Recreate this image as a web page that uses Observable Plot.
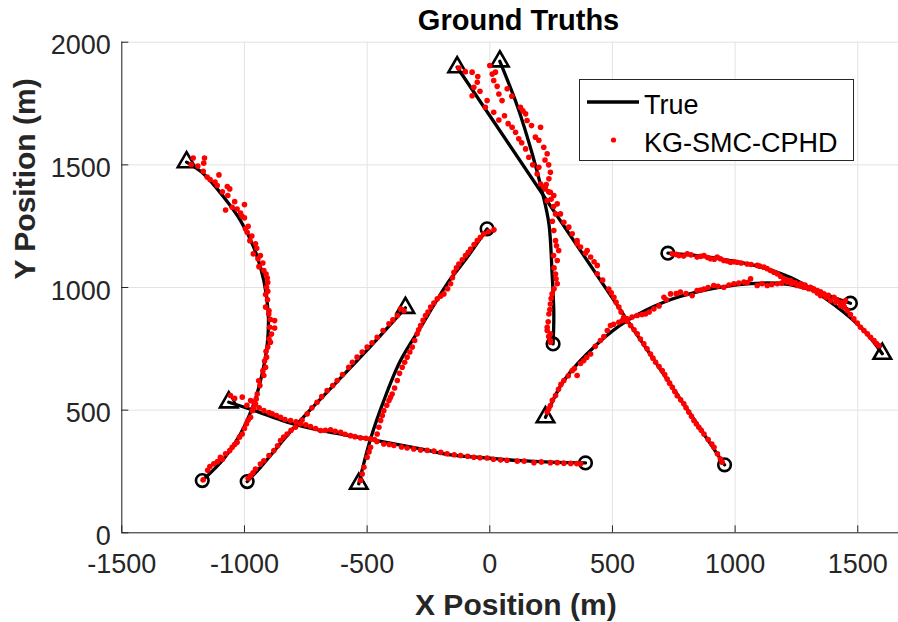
<!DOCTYPE html>
<html>
<head>
<meta charset="utf-8">
<script src="https://cdn.jsdelivr.net/npm/d3@7"></script>
<script src="https://cdn.jsdelivr.net/npm/@observablehq/plot@0.6"></script>
<style>
  body { margin: 0; background: #fff; }
  #wrap { position: relative; width: 898px; height: 622px; font-family: "Liberation Sans", Arial, Helvetica, sans-serif; }
  #legend { position: absolute; left: 579px; top: 79px; width: 275px; height: 82px; box-sizing: border-box; border: 1px solid #262626; background: #fff; }
  #legend svg { position: absolute; left: 0; top: 0; }
</style>
</head>
<body>
<div id="wrap">
  <div id="chart"></div>
  <div id="legend">
    <svg width="275" height="82" font-family="Liberation Sans, Arial, Helvetica, sans-serif">
      <line x1="7" x2="59" y1="22" y2="22" stroke="#000" stroke-width="3.3"></line>
      <text x="64" y="34" font-size="27" fill="#000">True</text>
      <circle cx="33.5" cy="60" r="2.6" fill="#ff0000"></circle>
      <text x="64" y="72" font-size="27" fill="#000">KG-SMC-CPHD</text>
    </svg>
  </div>
</div>
<script>
// Axis ticks
const xTicks = [-1500, -1000, -500, 0, 500, 1000, 1500];
const yTicks = [0, 500, 1000, 1500, 2000];
const xDomain = [-1500, 1666];
const yDomain = [0, 2000];

// True trajectories (start = triangle, end = circle)
const truth1 = [[-1236,1511],[-1166,1463],[-1084,1368],[-1016,1273],[-962,1164],[-921,1028],[-903,893],[-907,770],[-928,648],[-962,526],[-1016,404],[-1084,302],[-1172,213]];
const truth2 = [[-1064,532],[-962,499],[-826,451],[-690,417],[-500,383],[-282,342],[-160,318],[-11,305],[112,295],[250,288],[390,285]];
const truth3 = [[-344,917],[-514,730],[-785,444],[-935,267],[-989,209]];
const truth4 = [[-534,200],[-486,383],[-432,539],[-364,702],[-282,838],[-174,1015],[-92,1123],[-11,1239]];
const truth5 = [[-133,1898],[957,277]];
const truth6 = [[41,1922],[114,1735],[173,1545],[214,1389],[241,1260],[254,1056],[261,893],[258,770]];
const truth7 = [[227,471],[302,621],[438,770],[560,865],[709,940],[872,988],[1049,1015],[1198,1015],[1321,988],[1416,954],[1470,936]];
const truth8 = [[1600,730],[1525,825],[1443,899],[1362,960],[1253,1028],[1117,1080],[981,1110],[845,1130],[726,1140]];

// KG-SMC-CPHD estimates
const est1 = [[-1209,1528],[-1217,1501],[-1163,1528],[-1166,1507],[-1168,1474],[-1152,1450],[-1104,1459],[-1111,1416],[-1070,1412],[-1060,1402],[-1068,1375],[-1077,1316],[-1050,1327],[-1000,1338],[-1016,1303],[-1000,1284],[-996,1239],[-989,1225],[-978,1191],[-955,1178],[-964,1137],[-945,1117],[-941,1085],[-921,1069],[-907,1039],[-910,1001],[-914,971],[-914,920],[-901,892],[-877,865],[-897,838],[-877,835],[-894,777],[-905,757],[-910,716],[-914,675],[-921,641],[-937,600],[-948,566],[-955,525],[-968,498],[-975,471],[-992,444],[-1009,403],[-1030,369],[-1050,349],[-1077,322],[-1098,308],[-1125,281],[-1141,270],[-1168,216],
  [-1190,1495],[-1140,1440],[-1120,1430],[-1090,1390],[-1040,1350],[-1030,1320],[-1010,1290],[-985,1250],[-970,1210],[-950,1160],[-935,1130],[-925,1100],[-912,1055],[-905,1020],[-905,985],[-906,950],[-900,905],[-895,870],[-890,810],[-900,790],[-912,740],[-918,700],[-925,660],[-942,620],[-952,545],[-962,510],[-985,460],[-1000,425],[-1020,390],[-1040,360],[-1060,335],[-1090,300],[-1110,290],[-1150,255]];
const est2 = [[-1057,560],[-1009,553],[-975,539],[-962,532],[-921,498],[-887,485],[-853,471],[-812,458],[-772,444],[-731,433],[-690,417],[-649,420],[-608,410],[-568,396],[-527,387],[-486,383],[-432,362],[-391,356],[-337,346],[-282,338],[-228,333],[-174,322],[-119,315],[-65,308],[-11,305],[44,297],[112,292],[180,286],[247,286],[302,284],[370,281],
  [-1040,548],[-990,520],[-940,510],[-900,490],[-870,478],[-835,462],[-790,452],[-750,440],[-710,425],[-670,418],[-630,414],[-590,402],[-550,392],[-505,385],[-460,372],[-410,360],[-360,350],[-310,342],[-255,336],[-200,328],[-145,318],[-90,312],[-40,306],[15,300],[70,296],[140,292],[210,289],[275,286],[330,283],[355,282]];
const est3 = [[-364,913],[-377,886],[-411,852],[-459,797],[-500,757],[-541,716],[-575,675],[-622,621],[-663,580],[-704,532],[-744,485],[-792,430],[-826,403],[-853,376],[-880,335],[-921,294],[-955,260],[-975,233],
  [-350,905],[-395,868],[-435,825],[-480,775],[-520,737],[-560,695],[-600,645],[-640,600],[-685,555],[-725,510],[-765,460],[-810,418],[-840,390],[-865,355],[-900,315],[-935,280],[-965,245],[-985,222]];
const est4 = [[-527,213],[-513,267],[-500,308],[-486,349],[-459,403],[-445,458],[-432,498],[-411,539],[-398,566],[-377,621],[-357,675],[-337,716],[-316,757],[-296,811],[-282,845],[-262,886],[-241,920],[-214,954],[-187,974],[-160,1015],[-146,1062],[-126,1096],[-99,1130],[-78,1157],[-51,1191],[-24,1219],[17,1235],
  [-520,240],[-492,330],[-470,380],[-452,430],[-438,478],[-420,520],[-405,552],[-388,590],[-368,650],[-347,695],[-326,737],[-306,784],[-290,828],[-272,866],[-252,900],[-228,937],[-200,965],[-172,995],[-152,1040],[-136,1080],[-112,1113],[-88,1143],[-64,1175],[-38,1205],[-5,1228]];
const est5 = [[-126,1895],[-72,1878],[-49,1860],[-51,1837],[-65,1816],[-72,1782],[-11,1762],[-18,1735],[16,1714],[37,1683],[91,1653],[105,1633],[118,1606],[146,1565],[159,1531],[193,1463],[207,1422],[227,1402],[261,1375],[275,1341],[288,1300],[302,1266],[322,1246],[336,1219],[356,1191],[356,1178],[397,1151],[411,1124],[438,1090],[438,1056],[485,994],[506,960],[526,920],[546,879],[574,845],[601,811],[628,770],[655,729],[676,695],[703,661],[723,627],[744,593],[764,559],[791,526],[811,492],[832,458],[852,430],[873,403],[914,349],[940,301],[947,288],
  [-100,1880],[-40,1800],[60,1700],[75,1668],[130,1590],[175,1500],[240,1390],[250,1360],[370,1165],[390,1140],[425,1105],[460,1030],[495,978],[515,940],[535,900],[560,862],[588,828],[614,790],[641,750],[665,712],[690,678],[713,645],[733,610],[754,576],[778,542],[800,510],[822,475],[842,444],[862,418],[890,380],[905,362],[928,322]];
const est6 = [[0,1905],[23,1878],[16,1844],[37,1789],[50,1762],[71,1810],[125,1735],[146,1708],[152,1681],[207,1653],[186,1613],[220,1572],[234,1545],[200,1490],[247,1470],[241,1443],[220,1409],[247,1388],[234,1354],[268,1300],[261,1232],[268,1191],[281,1151],[275,1110],[268,1055],[275,1015],[254,974],[247,933],[241,892],[234,838],[234,825],[247,811],[247,784],[247,777],
  [10,1870],[30,1820],[90,1780],[135,1720],[170,1660],[200,1600],[225,1520],[240,1500],[230,1420],[260,1330],[255,1270],[272,1170],[260,1130],[262,1080],[270,1035],[262,995],[250,955],[245,910],[238,860],[240,800]];
const est7 = [[234,492],[247,519],[268,560],[302,621],[336,661],[356,641],[383,702],[411,729],[451,784],[479,825],[492,845],[526,858],[560,872],[601,886],[635,892],[669,913],[710,960],[737,974],[777,981],[825,967],[845,988],[873,994],[913,1008],[954,1001],[995,1015],[1036,1022],[1063,1035],[1090,1008],[1131,1008],[1172,1015],[1212,1022],[1253,1008],[1280,1001],[1321,988],[1348,967],[1389,947],[1430,926],[1450,947],
  [240,505],[255,540],[280,585],[290,605],[320,640],[345,670],[370,690],[395,715],[430,760],[465,800],[505,850],[540,865],[580,880],[620,890],[650,900],[690,925],[720,950],[760,975],[800,975],[860,990],[890,1000],[930,1005],[975,1010],[1015,1018],[1050,1020],[1110,1015],[1150,1012],[1190,1018],[1230,1015],[1270,1005],[1300,995],[1335,978],[1370,960],[1410,940],[1440,930]];
const est8 = [[744,1137],[771,1130],[805,1137],[845,1124],[873,1130],[900,1117],[927,1124],[954,1110],[981,1103],[1008,1103],[1049,1096],[1090,1090],[1117,1083],[1144,1069],[1172,1056],[1199,1035],[1226,1028],[1267,1015],[1307,1001],[1335,988],[1362,974],[1403,960],[1430,940],[1457,906],[1484,872],[1511,838],[1539,811],[1566,784],[1586,763],
  [760,1135],[790,1128],[820,1133],[860,1127],[888,1122],[915,1115],[940,1117],[968,1108],[995,1105],[1025,1100],[1065,1094],[1100,1087],[1130,1077],[1158,1062],[1185,1046],[1212,1030],[1245,1020],[1285,1010],[1320,995],[1348,982],[1380,968],[1415,950],[1445,920],[1470,890],[1498,855],[1525,825],[1552,797],[1576,772]];

const truthTracks = [truth1, truth2, truth3, truth4, truth5, truth6, truth7, truth8];
const estTracks = [est1, est2, est3, est4, est5, est6, est7, est8];

const truthRows = truthTracks.flatMap((t, i) => t.map(([x, y]) => ({x, y, track: i})));
const estRows = estTracks.flatMap((t, i) => t.map(([x, y]) => ({x, y, track: i})));
const startRows = truthTracks.map((t, i) => ({x: t[0][0], y: t[0][1], track: i}));
const endRows = truthTracks.map((t, i) => ({x: t[t.length - 1][0], y: t[t.length - 1][1], track: i}));

const W = 898, H = 622;
const ML = 121.3, MR = 0, MT = 41.7, MB = 89.7;
const frameW = W - ML - MR, frameH = H - MT - MB;
const axisColor = "#262626";
const font = "Liberation Sans, Arial, Helvetica, sans-serif";
const fmt = d => String(d);

const chart = Plot.plot({
  width: W, height: H,
  marginLeft: ML, marginRight: MR, marginTop: MT, marginBottom: MB,
  style: {fontFamily: font, background: "#fff", overflow: "visible"},
  x: {domain: xDomain, ticks: xTicks},
  y: {domain: yDomain, ticks: yTicks},
  marks: [
    Plot.gridX(xTicks, {stroke: "#e3e3e3", strokeOpacity: 1, strokeWidth: 1}),
    Plot.gridY(yTicks, {stroke: "#e3e3e3", strokeOpacity: 1, strokeWidth: 1}),
    Plot.ruleX([xDomain[0]], {stroke: axisColor, strokeWidth: 1}),
    Plot.ruleY([yDomain[0]], {stroke: axisColor, strokeWidth: 1}),
    Plot.tickX(xTicks, {x: d => d, stroke: axisColor, insetTop: frameH - 7}),
    Plot.tickY(yTicks, {y: d => d, stroke: axisColor, insetRight: frameW - 7}),
    Plot.axisX(xTicks, {tickSize: 0, tickPadding: 21, fontSize: 27, fill: axisColor, label: null, tickFormat: fmt}),
    Plot.axisY(yTicks, {tickSize: 0, tickPadding: 11, fontSize: 27, fill: axisColor, label: null, dy: 3.5, tickFormat: fmt}),
    Plot.line(truthRows, {x: "x", y: "y", z: "track", stroke: "#000", strokeWidth: 3.3, curve: "catmull-rom"}),
    Plot.dot(startRows, {x: "x", y: "y", symbol: "triangle", r: 6.5, stroke: "#000", strokeWidth: 2.6, fill: "none"}),
    Plot.dot(endRows, {x: "x", y: "y", symbol: "circle", r: 6.3, stroke: "#000", strokeWidth: 2.6, fill: "none"}),
    Plot.dot(estRows, {x: "x", y: "y", r: 2.8, fill: "#ff0000", stroke: "none"}),
    Plot.text(["Ground Truths"], {frameAnchor: "top", text: d => d, dx: 8.4, dy: -21.3, fontSize: 29, fontWeight: "bold", fill: "#000", lineAnchor: "middle"}),
    Plot.text(["X Position (m)"], {frameAnchor: "bottom", text: d => d, dx: 5.7, dy: 72.3, fontSize: 30, fontWeight: "bold", fill: axisColor, lineAnchor: "middle"}),
    Plot.text(["Y Position (m)"], {frameAnchor: "left", text: d => d, dx: -96.8, dy: -8, rotate: -90, fontSize: 30, fontWeight: "bold", fill: axisColor, lineAnchor: "middle"})
  ]
});
document.getElementById("chart").appendChild(chart);
</script>
</body>
</html>
